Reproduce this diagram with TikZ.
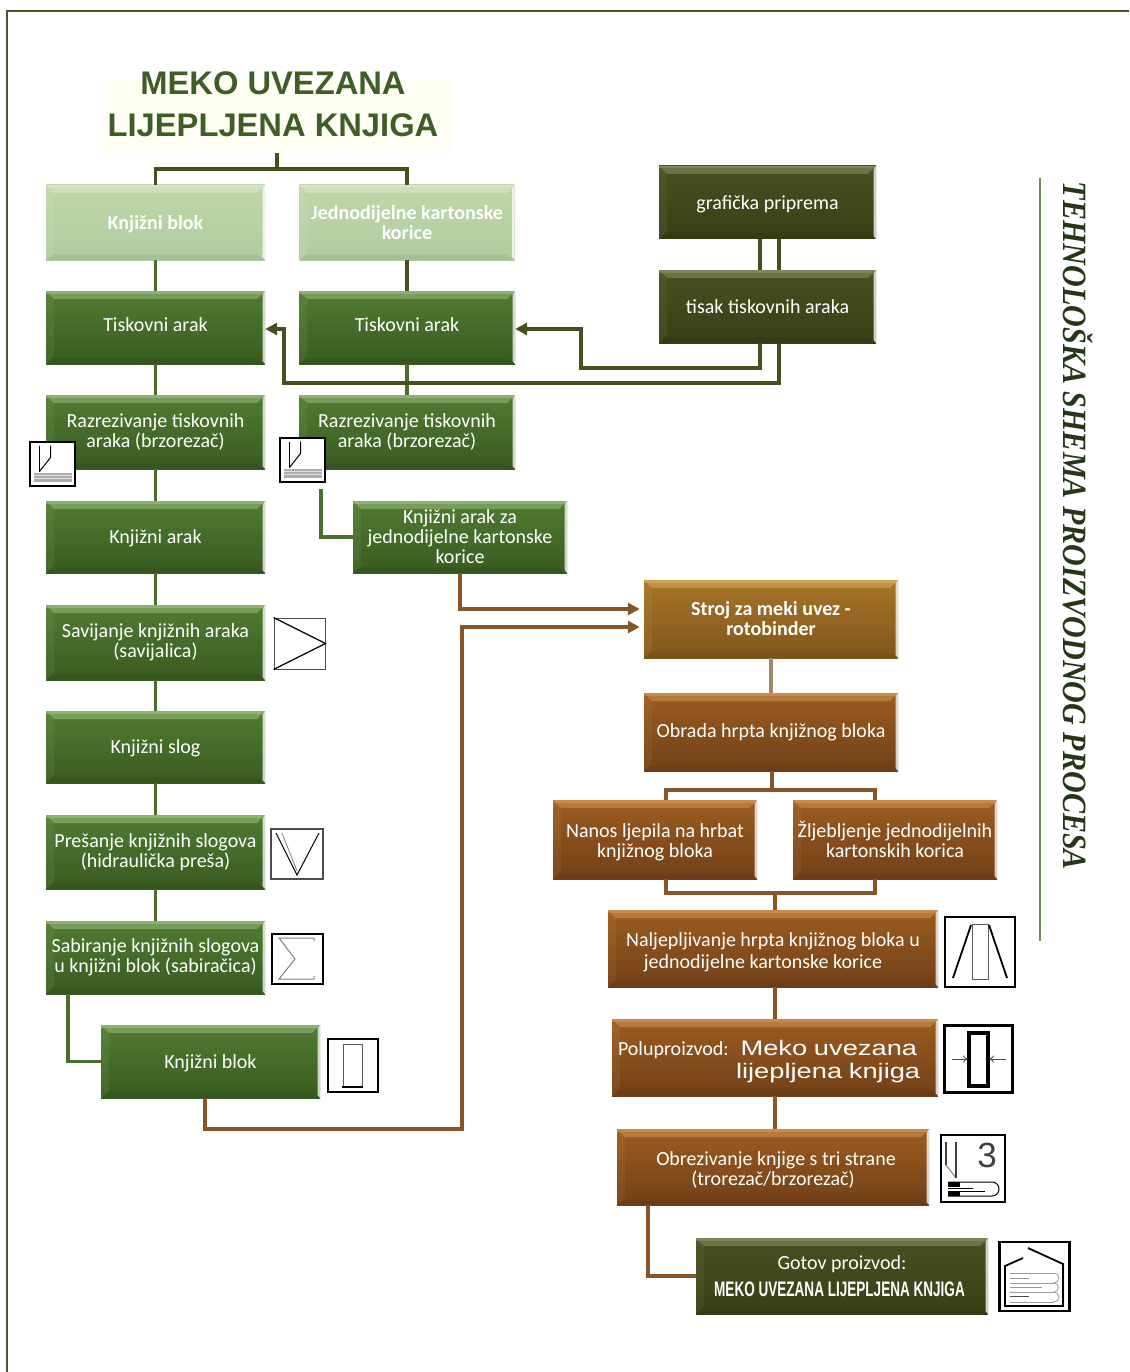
\documentclass[tikz,border=0pt]{standalone}
\usepackage{fontspec}
\usepackage{xcolor}
\usepackage{tikz}
\usetikzlibrary{arrows.meta}
\setmainfont{Carlito}
\newfontfamily\naslovfont{Liberation Sans}
\newfontfamily\bocnifont[FakeStretch=0.885]{Liberation Serif}
\newfontfamily\uskifont[FakeStretch=0.645]{Liberation Sans}
\newfontfamily\sirokifont[FakeStretch=1.3]{Liberation Sans}
\definecolor{okvir}{HTML}{4A5426}
\definecolor{linZel}{HTML}{4A6E2C}
\definecolor{linTam}{HTML}{4A4D1E}
\definecolor{linSme}{HTML}{8A5526}
\definecolor{zelG}{HTML}{507C32}
\definecolor{zelD}{HTML}{385B20}
\definecolor{zelB}{HTML}{A9C890}
\definecolor{svjG}{HTML}{C0D6A8}
\definecolor{svjD}{HTML}{AFCDA0}
\definecolor{svjB}{HTML}{E4EED8}
\definecolor{tamG}{HTML}{4A4F22}
\definecolor{tamD}{HTML}{3A3E15}
\definecolor{tamB}{HTML}{9AA076}
\definecolor{smeG}{HTML}{9C5C20}
\definecolor{smeD}{HTML}{714018}
\definecolor{smeB}{HTML}{DDA060}
\definecolor{zlaG}{HTML}{A67428}
\definecolor{zlaD}{HTML}{82571C}
\definecolor{zlaB}{HTML}{E2B868}
\tikzset{
  bevel/.style={path picture={
    \fill[#1, opacity=.45] (path picture bounding box.north west) -- (path picture bounding box.north east)
      -- ([shift={(-8pt,-8pt)}]path picture bounding box.north east) -- ([shift={(8pt,-8pt)}]path picture bounding box.north west) -- cycle;
    \fill[#1, opacity=.45] (path picture bounding box.north west) rectangle ([yshift=-2.5pt]path picture bounding box.north east);
    \fill[#1, opacity=.10] (path picture bounding box.north west) -- ([shift={(8pt,-8pt)}]path picture bounding box.north west)
      -- ([shift={(8pt,8pt)}]path picture bounding box.south west) -- (path picture bounding box.south west) -- cycle;
    \fill[white, opacity=.75] (path picture bounding box.north east) -- ([shift={(-2.5pt,-4pt)}]path picture bounding box.north east)
      -- ([shift={(-2.5pt,3pt)}]path picture bounding box.south east) -- (path picture bounding box.south east) -- cycle;
    \fill[black, opacity=.06] (path picture bounding box.south west) -- ([shift={(8pt,6pt)}]path picture bounding box.south west)
      -- ([shift={(-8pt,6pt)}]path picture bounding box.south east) -- (path picture bounding box.south east) -- cycle;
  }},
  box/.style n args={3}{rectangle, inner sep=0pt, align=center, text=white,
    font=\fontsize{20}{20}\selectfont, top color=#1, bottom color=#2, bevel=#3},
  vel/.style 2 args={minimum width=#1pt, minimum height=#2pt},
  zelena/.style={box={zelG}{zelD}{zelB}},
  svijetla/.style={box={svjG}{svjD}{svjB}, font=\fontsize{20}{20}\selectfont\bfseries},
  tamna/.style={box={tamG}{tamD}{tamB}},
  smeda/.style={box={smeG}{smeD}{smeB}},
  zlatna/.style={box={zlaG}{zlaD}{zlaB}},
  veza/.style={line width=3.5pt, linZel},
  vezaT/.style={line width=3.5pt, linTam},
  vezaS/.style={line width=3.5pt, linSme},
  ikona/.style={draw=black, line width=2pt, fill=white, inner sep=0pt},
  rez/.pic={
    \fill[gray!65] (4,31) rectangle (42,40);
    \foreach \y in {33.5,37} \draw[gray!25, line width=.5pt] (4,\y) -- (42,\y);
    \draw[line width=1pt] (10,4) -- (10,30);
    \draw[line width=1pt] (21,4) -- (21,16) -- (10,30);
  }
}
\begin{document}
\begin{tikzpicture}[x=1pt,y=-1pt,>={Triangle[length=12pt,width=12pt]}]
\useasboundingbox (0,0) rectangle (1129,1372);
% okvir
\draw [okvir, line width=2pt] (7,1372) -- (7,11) -- (1129,11);
\draw [linZel!80, line width=1.2pt] (1040,178) -- (1040,941);
% naslov
\node [fill=yellow!4, minimum width=350pt, minimum height=73pt] (naslov) at (277,116.5) {};
\node [text=linZel!85!black, align=center, font=\fontsize{32.7}{42}\selectfont\naslovfont\bfseries] (naslovTxt) at (273,104) {MEKO UVEZANA\\LIJEPLJENA KNJIGA};
\node [rotate=-90, font=\fontsize{34}{34}\selectfont\bocnifont\bfseries\itshape, text=linZel!50!black] (bocni) at (1078,526) {TEHNOLOŠKA SHEMA PROIZVODNOG PROCESA};
% lijevi stupac
\node [svijetla, vel={219}{75}, text height=17pt] (blok) at (155.5,222.5) {Knjižni blok};
\node [zelena, vel={219}{73}, text depth=6pt] (tisL) at (155.5,327.5) {Tiskovni arak};
\node [zelena, vel={219}{74}] (rezL) at (155.5,432) {Razrezivanje tiskovnih\\araka (brzorezač)};
\node [zelena, vel={219}{72}, text height=17pt] (arak) at (155.5,537) {Knjižni arak};
\node [zelena, vel={219}{75}] (sav) at (155.5,642.5) {Savijanje knjižnih araka\\(savijalica)};
\node [zelena, vel={219}{72}, text height=17pt] (slog) at (155.5,747) {Knjižni slog};
\node [zelena, vel={219}{74}] (pres) at (155.5,852) {Prešanje knjižnih slogova\\(hidraulička preša)};
\node [zelena, vel={219}{73}] (sab) at (155.5,957.5) {Sabiranje knjižnih slogova\\u knjižni blok (sabiračica)};
\node [zelena, vel={219}{73}, text height=17pt] (blokG) at (210.5,1061.5) {Knjižni blok};
% srednji stupac
\node [svijetla, vel={215}{75}] (kor) at (407,222.5) {Jednodijelne kartonske\\korice};
\node [zelena, vel={216}{73}, text depth=6pt] (tisD) at (407,327.5) {Tiskovni arak};
\node [zelena, vel={216}{74}] (rezD) at (407,432) {Razrezivanje tiskovnih\\araka (brzorezač)};
\node [zelena, vel={214}{72}] (arakK) at (460,537) {Knjižni arak za\\jednodijelne kartonske\\korice};
% tisak
\node [tamna, vel={217}{73}, text height=17pt] (graf) at (767.5,202.5) {grafička priprema};
\node [tamna, vel={217}{73}] (tisak) at (767.5,306.5) {tisak tiskovnih araka};
% desni stupac
\node [zlatna, vel={254}{78}, font=\fontsize{20}{20}\selectfont\bfseries] (stroj) at (771,619) {Stroj za meki uvez -\\rotobinder};
\node [smeda, vel={254}{78}] (hrbat) at (771,732) {Obrada hrpta knjižnog bloka};
\node [smeda, vel={204}{79}] (nanos) at (655,839.5) {\rule{0pt}{19pt}Nanos ljepila na hrbat\\knjižnog bloka};
\node [smeda, vel={204}{79}] (zljeb) at (895,839.5) {Žljebljenje jednodijelnih\\kartonskih korica};
\node [smeda, vel={330}{77}, font=\fontsize{20}{22}\selectfont] (nalj) at (773,948.5) {\rule{0pt}{22pt}Naljepljivanje hrpta knjižnog bloka u\\jednodijelne kartonske korice\hspace*{20pt}};
\node [smeda, vel={326}{77}, text width=314pt, align=left] (polu) at (775,1057.5) {\rule{0pt}{24pt}Poluproizvod:\hspace*{5pt} {\fontsize{21}{24}\selectfont\sirokifont Meko uvezana}\\[3pt]\hspace*{118pt}{\fontsize{21}{24}\selectfont\sirokifont lijepljena knjiga}};
\node [smeda, vel={312}{76}] (obrez) at (773,1167) {\rule{0pt}{20pt}\hspace*{6pt}Obrezivanje knjige s tri strane\\(trorezač/brzorezač)};
\node [tamna, vel={292}{76}] (gotov) at (842,1276) {Gotov proizvod:\\[7pt]{\fontsize{21}{24}\selectfont\uskifont\bfseries MEKO UVEZANA LIJEPLJENA KNJIGA}\hspace*{5pt}};
% vrh
\coordinate (rasp) at (277,169);
\draw [vezaT] (naslov.south -| rasp) -- (rasp);
\draw [vezaT] (blok.north) |- (rasp) -| (kor.north);
% veze
\draw [veza] (blok) -- (tisL);
\draw [veza] (tisL) -- (rezL);
\draw [veza] (rezL) -- (arak);
\draw [veza] (arak) -- (sav);
\draw [veza] (sav) -- (slog);
\draw [veza] (slog) -- (pres);
\draw [veza] (pres) -- (sab);
\draw [veza] (sab.south -| 68,0) |- (blokG.west);
\draw [vezaT] (kor) -- (tisD);
\draw [veza] (tisD) -- (rezD);
\coordinate (odRez) at (321,489);
\draw [veza] (odRez) |- (arakK.west);
% tisak
\draw [vezaT] ([xshift=-7.5pt]graf.south) -- ([xshift=-7.5pt]tisak.north);
\draw [vezaT] ([xshift=11.5pt]graf.south) -- ([xshift=11.5pt]tisak.north);
\draw [vezaT, ->] ([xshift=-7.5pt]tisak.south) |- (581,368) |- ([yshift=-1.5pt]tisD.east);
\draw [vezaT, ->] ([xshift=11.5pt]tisak.south) |- (284,383) |- ([yshift=-1.5pt]tisL.east);
% prema stroju
\coordinate (ulazA) at ([yshift=10pt]stroj.west);
\coordinate (ulazB) at ([yshift=-8pt]stroj.west);
\draw [vezaS, ->] (arakK.south) |- ([xshift=-4pt]ulazA);
\draw [vezaS, ->] (blokG.south -| 205,0) |- (462,1129) |- ([xshift=-4pt]ulazB);
\draw [line width=3.5pt, linSme!60!gray!80] (stroj) -- (hrbat);
\coordinate (gore) at (772,790);
\coordinate (dolje) at (775,893);
\draw [vezaS] (hrbat.south -| gore) -- (gore);
\draw [vezaS] (nanos.north -| 666,0) |- (gore) -| (zljeb.north -| 875,0);
\draw [vezaS] (nanos.south -| 666,0) |- (dolje) -| (zljeb.south -| 875,0);
\draw [vezaS] (dolje) -- (dolje |- nalj.north);
\draw [vezaS] (polu.north |- nalj.south) -- (polu.north);
\draw [vezaS] (polu.south) -- (polu.south |- obrez.north);
\draw [vezaS] (obrez.south -| 648,0) |- (gotov.west);
% ikone
\node [ikona, minimum width=45pt, minimum height=44pt] (ikRezL) at (52,463.5) {};
\pic at (29.5,441.5) {rez};
\node [ikona, minimum width=45pt, minimum height=44pt] (ikRezD) at (302,459.5) {};
\pic at (279.5,437.5) {rez};
\node [ikona, draw=black!70, line width=1pt, minimum width=51pt, minimum height=51pt] (ikSav) at (299.5,643.5) {};
\draw [line width=1.2pt] (ikSav.north west) -- (ikSav.east) -- (ikSav.south west);
\node [ikona, draw=black!70, line width=1.2pt, minimum width=52pt, minimum height=50pt] (ikPres) at (297,854) {};
\draw [line width=1pt] (276,833) -- (297,875) -- (319,833);
\draw [gray, line width=.8pt] (282,833) -- (297,871);
\node [ikona, minimum width=51pt, minimum height=50pt] (ikSab) at (297.5,959) {};
\draw [gray, line width=1pt] (314,941) -- (314,938) -- (279,938) -- (295,959) -- (279,979) -- (314,979) -- (314,976);
\node [ikona, minimum width=50pt, minimum height=53pt] (ikBlok) at (353,1065.5) {};
\draw [gray!70!black, line width=1pt] (343,1087) -- (343,1044) -- (362,1044) -- (362,1087);
\draw [line width=1.4pt] (342,1087) -- (363,1087);
\node [ikona, line width=2.4pt, minimum width=70pt, minimum height=70pt] (ikLjep) at (980,952) {};
\draw [gray!70!black, line width=1pt] (972,924) rectangle (988,979);
\draw [line width=1.8pt] (953,978) -- (971,925);
\draw [line width=1.8pt] (989,925) -- (1007,978);
\node [ikona, line width=3pt, minimum width=68pt, minimum height=67pt] (ikStis) at (978.5,1059) {};
\draw [line width=3.5pt] (969,1033) rectangle (988,1086);
\draw [gray!60!black, line width=.8pt, -{To[length=5pt,width=7pt]}] (952,1059) -- (968,1059);
\draw [gray!60!black, line width=.8pt, -{To[length=5pt,width=7pt]}] (1006,1059) -- (989,1059);
\node [ikona, minimum width=64pt, minimum height=67pt] (ikTri) at (973,1168.5) {};
\draw [gray, line width=1pt] (946,1165) -- (956,1178);
\draw [black!75, line width=1.2pt] (946,1142) -- (946,1165);
\draw [black!75, line width=1.2pt] (956,1142) -- (956,1178);
\node [font=\fontsize{35}{35}\selectfont\naslovfont, text=black!75] (tri) at (987,1155) {3};
\draw [line width=1pt] (948,1182) -- (992,1182) arc (-90:90:7) -- (948,1196);
\draw [line width=.8pt] (948,1188) -- (973,1188);
\draw [line width=.8pt] (948,1191) -- (985,1191);
\fill (948,1182) rectangle (960,1187);
\fill (948,1191.5) rectangle (960,1196);
\node [ikona, line width=2.2pt, minimum width=70pt, minimum height=69pt] (ikKuca) at (1034.5,1276.5) {};
\draw [line width=1.8pt] (1023,1258) -- (1005,1266) -- (1005,1306) -- (1063,1306) -- (1063,1264) -- (1028,1248);
% knjige
\draw [gray!80, line width=1pt] (1010,1273) -- (1054,1273);
\draw [gray!80, line width=1pt] (1010,1278) -- (1029,1278);
\draw [gray!80, line width=1pt] (1010,1283) -- (1054,1283);
\draw [gray!80, line width=1pt] (1010,1287) -- (1042,1287);
\draw [gray!80, line width=1pt] (1010,1292) -- (1054,1292);
\draw [black!70, line width=1pt] (1010,1296.5) -- (1029,1296.5);
\draw [gray!80, line width=1pt] (1010,1302) -- (1054,1302);
\draw [gray!80, line width=.8pt] (1054,1273) arc (-90:90:5) arc (-90:90:4.5) arc (-90:90:5);
\end{tikzpicture}
\end{document}
